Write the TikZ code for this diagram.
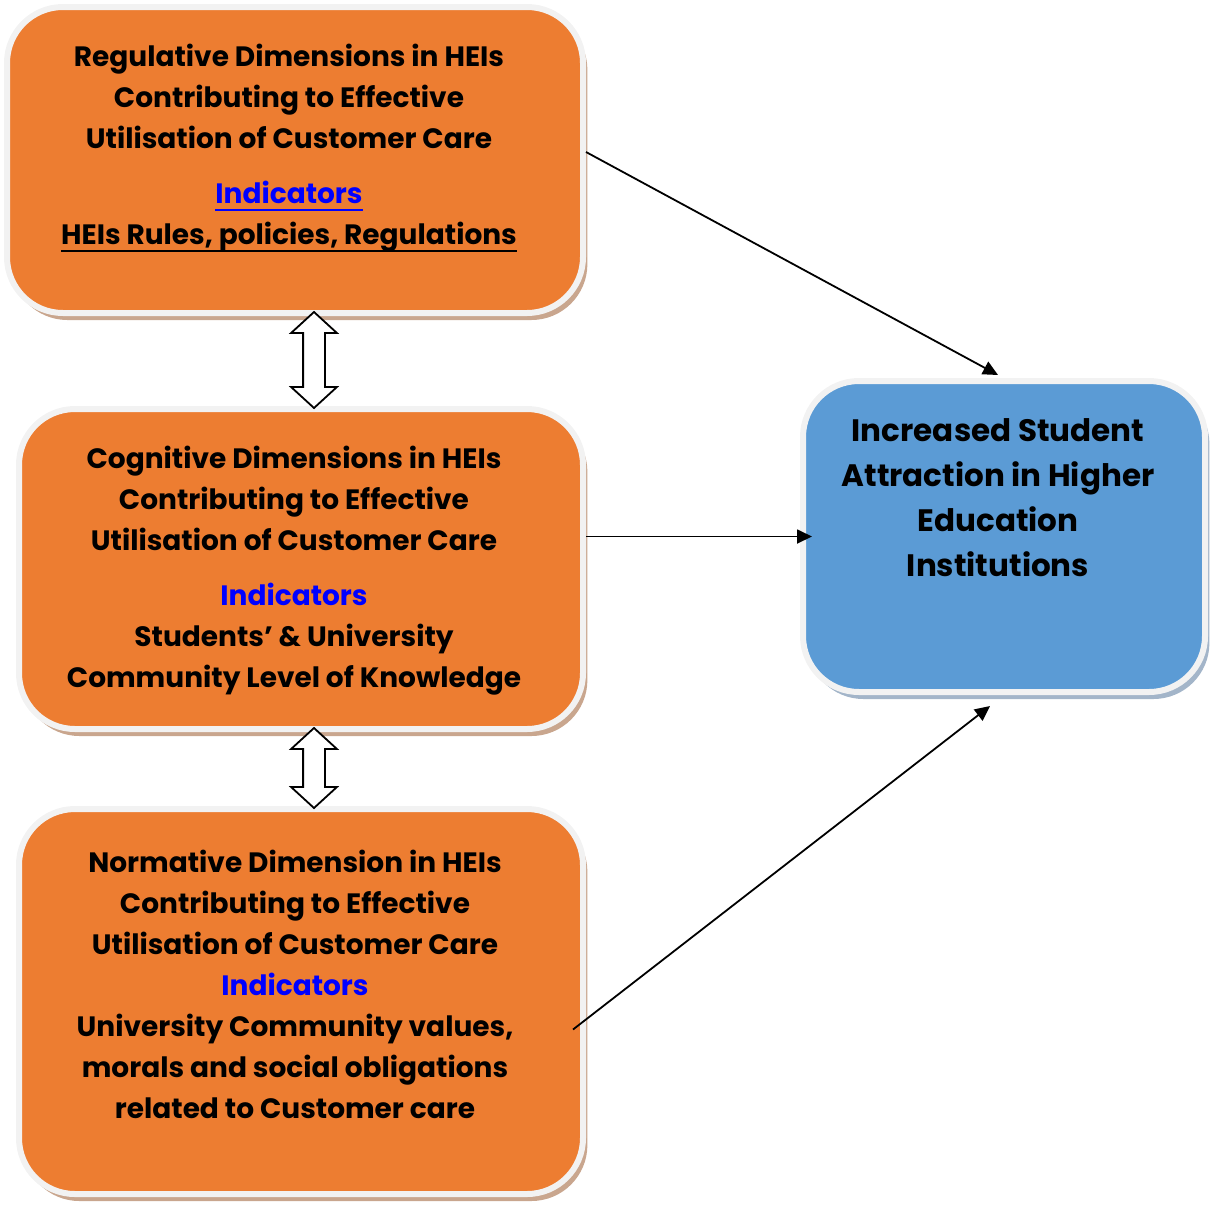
\documentclass[tikz,border=0pt]{standalone}
\usepackage{fontspec}
\setmainfont{Poppins}
\usetikzlibrary{positioning,shapes.arrows,shadows,arrows.meta}
\definecolor{dimorange}{HTML}{ED7D31}
\definecolor{outblue}{HTML}{5B9BD5}
\definecolor{rimgray}{HTML}{F2F2F2}
\definecolor{orangeshade}{HTML}{C9A68E}
\definecolor{blueshade}{HTML}{A3B5C9}
\definecolor{indblue}{HTML}{0000FF}
\tikzset{
  dimbox/.style={draw=rimgray, line width=3pt, fill=dimorange, rounded corners=28pt, inner sep=0pt,
    drop shadow={shadow xshift=2.2pt, shadow yshift=-3.5pt, fill=orangeshade, opacity=1}},
  outbox/.style={draw=rimgray, line width=3pt, fill=outblue, rounded corners=28pt, inner sep=0pt,
    drop shadow={shadow xshift=2.2pt, shadow yshift=-3.5pt, fill=blueshade, opacity=1}},
  dimtext/.style={align=center, inner sep=0pt, font=\bfseries\fontsize{14}{20.5}\selectfont},
  outtext/.style={align=center, inner sep=0pt, font=\bfseries\fontsize{15.5}{22.5}\selectfont},
  updown/.style={double arrow, draw=black, fill=white, line width=0.9pt, rotate=90,
    inner xsep=0pt, inner ysep=5pt, double arrow head extend=6pt, double arrow tip angle=95},
  conn/.style={-{Triangle[length=7.5pt,width=7pt]}, line width=0.9pt}
}
\newcommand{\thickul}[1]{\leavevmode\setbox0\hbox{#1}\rlap{\rule[-3.6pt]{\wd0}{1pt}}\box0}
\newcommand{\ind}{\textcolor{indblue}{Indicators}}
\begin{document}
\begin{tikzpicture}[x=0.5pt, y=-0.5pt]
\useasboundingbox (0,0) rectangle (1218,1205);
% the three dimensions
\node[dimbox, minimum width=288pt, minimum height=153pt] (reg) at (295,160) {};
\node[dimbox, minimum width=282pt, minimum height=160pt] (cog) at (301,569) {};
\node[dimbox, minimum width=282pt, minimum height=192.5pt] (norm) at (301,1001.5) {};
% outcome
\node[outbox, minimum width=201pt, minimum height=155.5pt] (out) at (1004,536.5) {};

\node[dimtext, anchor=north] (regtxt) at (289,44) {Regulative Dimensions in HEIs\\ Contributing to Effective\\ Utilisation of Customer Care\\[7pt] \textcolor{indblue}{\thickul{Indicators}}\\ \thickul{HEIs Rules, policies, Regulations}};
\node[dimtext, anchor=north] (cogtxt) at (294,446) {Cognitive Dimensions in HEIs\\ Contributing to Effective\\ Utilisation of Customer Care\\[7pt] \ind\\ Students’ \& University\\ Community Level of Knowledge};
\node[dimtext, anchor=north] (normtxt) at (295,850) {Normative Dimension in HEIs\\ Contributing to Effective\\ Utilisation of Customer Care\\ \ind\\ University Community values,\\ morals and social obligations\\ related to Customer care};
\node[outtext, anchor=north] (outtxt) at (998,418) {Increased Student\\ Attraction in Higher\\ Education\\ Institutions};

% links between dimensions
\node[updown, minimum height=48pt] (link1) at (314,360) {};
\node[updown, minimum height=40pt] (link2) at (314,768) {};

% effects
\draw[conn] ([yshift=4pt]reg.east) -- ([xshift=-3pt,yshift=1.5pt]out.north);
\draw[conn] (cog.east |- out.west) -- ([xshift=6pt]out.west);
\draw[conn] ([xshift=-6.5pt,yshift=-14pt]norm.east) -- ([xshift=-7pt,yshift=-5.5pt]out.south);
\end{tikzpicture}
\end{document}
